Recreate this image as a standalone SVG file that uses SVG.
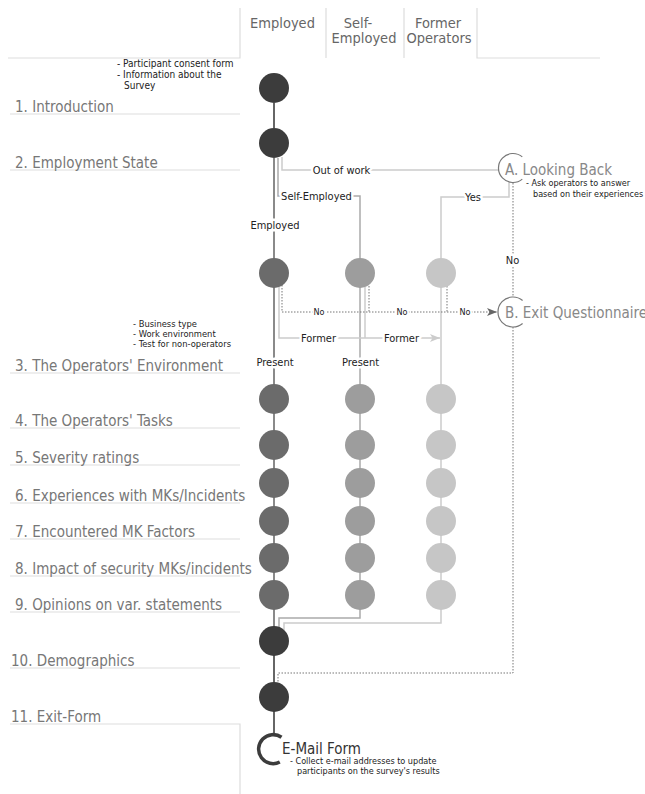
<svg xmlns="http://www.w3.org/2000/svg" width="645" height="794" viewBox="0 0 645 794">
<style>
text{font-family:'DejaVu Sans Condensed','DejaVu Sans',sans-serif;font-stretch:condensed}
.lbl{font-size:15px;fill:#777}
.hdr{font-size:14.5px;fill:#666;text-anchor:middle}
.note{font-size:9px;fill:#222}
.big{font-size:15px;fill:#888}
.cl{font-size:11px;fill:#222;text-anchor:middle;stroke:#fff;stroke-width:5;paint-order:stroke;stroke-linejoin:round}
.cs{font-size:9px;fill:#222;text-anchor:middle;stroke:#fff;stroke-width:4;paint-order:stroke;stroke-linejoin:round}
.rule{stroke:#ddd;stroke-width:1.2;fill:none}
.dark{stroke:#666;stroke-width:2;fill:none}
.emp{stroke:#8a8a8a;stroke-width:2;fill:none}
.self{stroke:#aaa;stroke-width:1.5;fill:none}
.form{stroke:#ccc;stroke-width:1.5;fill:none}
.dot{stroke:#777;stroke-width:1;stroke-dasharray:1.5 1.5;fill:none}
.cd{fill:#3c3c3c}
.ce{fill:#6b6b6b}
.cse{fill:#9d9d9d}
.cf{fill:#c6c6c6}
.ring{fill:none;stroke:#777;stroke-width:1.2}
</style>
<defs>
<marker id="arrD" viewBox="0 0 10 8" refX="10" refY="4" markerWidth="10" markerHeight="8" markerUnits="userSpaceOnUse" orient="auto"><path d="M0,0 L10,4 L0,8 L2.5,4 z" fill="#666"/></marker>
<marker id="arrL" viewBox="0 0 10 8" refX="10" refY="4" markerWidth="10" markerHeight="8" markerUnits="userSpaceOnUse" orient="auto"><path d="M0,0 L10,4 L0,8 L2.5,4 z" fill="#ccc"/></marker>
</defs>

<g id="grid">
<path class="rule" d="M8,58 H240 V8 M326,8 V58 M404,8 V58 M477,8 V58 H600"/>
<path class="rule" d="M10,114 H240 M10,170 H240 M10,373 H240 M10,428 H240 M10,465 H240 M10,503 H240 M10,539 H240 M10,576 H240 M10,612 H240 M10,668 H240 M10,724 H240 V794"/>
</g>

<g id="headers">
<text class="hdr" x="282.5" y="28">Employed</text>
<text class="hdr" x="358" y="28">Self-</text>
<text class="hdr" x="364" y="43">Employed</text>
<text class="hdr" x="438" y="28">Former</text>
<text class="hdr" x="439" y="43">Operators</text>
</g>

<g id="sections">
<text class="lbl" x="15" y="112">1. Introduction</text>
<text class="lbl" x="15" y="168">2. Employment State</text>
<text class="lbl" x="15" y="371">3. The Operators' Environment</text>
<text class="lbl" x="15" y="426">4. The Operators' Tasks</text>
<text class="lbl" x="15" y="463">5. Severity ratings</text>
<text class="lbl" x="15" y="501">6. Experiences with MKs/Incidents</text>
<text class="lbl" x="15" y="537">7. Encountered MK Factors</text>
<text class="lbl" x="15" y="574">8. Impact of security MKs/incidents</text>
<text class="lbl" x="15" y="610">9. Opinions on var. statements</text>
<text class="lbl" x="11" y="666">10. Demographics</text>
<text class="lbl" x="11" y="722">11. Exit-Form</text>
<text class="note" x="117" y="67" style="font-size:10px">- Participant consent form</text>
<text class="note" x="117" y="78" style="font-size:10px">- Information about the</text>
<text class="note" x="124" y="89" style="font-size:10px">Survey</text>
<text class="note" x="133" y="327" style="font-size:9.3px">- Business type</text>
<text class="note" x="133" y="337" style="font-size:9.3px">- Work environment</text>
<text class="note" x="133" y="347" style="font-size:9.3px">- Test for non-operators</text>
</g>

<g id="connectors">
<path class="dark" d="M274,103 V128 M274,626 V734"/>
<path class="emp" d="M274,158 V626"/>
<path class="self" d="M278,158 V196 H360 V618 H279 V627"/>
<path class="form" d="M509,182 V197 H441 V623 H284 V630"/>
<path class="form" d="M282,157 V170 H499"/>
<path class="form" d="M365,287 V338"/>
<path class="form" d="M279,287 V338 H440" marker-end="url(#arrL)"/>
<path class="dot" d="M282,285 V312 H497" marker-end="url(#arrD)"/>
<path class="dot" d="M369,286 V312 M447,286 V312"/>
<path class="dot" d="M513,183 V297 M513,327 V673 H278 V683"/>
<text class="cl" x="341.5" y="174">Out of work</text>
<text class="cl" x="316.5" y="200">Self-Employed</text>
<text class="cl" x="275" y="229">Employed</text>
<text class="cl" x="473" y="201">Yes</text>
<text class="cl" x="512.5" y="264">No</text>
<text class="cs" x="319" y="315">No</text>
<text class="cs" x="402" y="315">No</text>
<text class="cs" x="465" y="315">No</text>
<text class="cl" x="318.5" y="342">Former</text>
<text class="cl" x="401.5" y="342">Former</text>
<text class="cl" x="275" y="366">Present</text>
<text class="cl" x="360.5" y="366">Present</text>
</g>

<g id="n-intro"><circle class="cd" cx="274" cy="88" r="15"/></g>
<g id="n-employment"><circle class="cd" cx="274" cy="143" r="15"/></g>
<g id="n-env-emp"><circle class="ce" cx="274" cy="273" r="15"/></g>
<g id="n-env-self"><circle class="cse" cx="360" cy="273" r="15"/></g>
<g id="n-env-former"><circle class="cf" cx="441" cy="273" r="15"/></g>
<g id="n-tasks"><circle class="ce" cx="274" cy="399" r="15"/><circle class="cse" cx="360" cy="399" r="15"/><circle class="cf" cx="441" cy="399" r="15"/></g>
<g id="n-severity"><circle class="ce" cx="274" cy="445" r="15"/><circle class="cse" cx="360" cy="445" r="15"/><circle class="cf" cx="441" cy="445" r="15"/></g>
<g id="n-experiences"><circle class="ce" cx="274" cy="483" r="15"/><circle class="cse" cx="360" cy="483" r="15"/><circle class="cf" cx="441" cy="483" r="15"/></g>
<g id="n-factors"><circle class="ce" cx="274" cy="521" r="15"/><circle class="cse" cx="360" cy="521" r="15"/><circle class="cf" cx="441" cy="521" r="15"/></g>
<g id="n-impact"><circle class="ce" cx="274" cy="558" r="15"/><circle class="cse" cx="360" cy="558" r="15"/><circle class="cf" cx="441" cy="558" r="15"/></g>
<g id="n-opinions"><circle class="ce" cx="274" cy="595" r="15"/><circle class="cse" cx="360" cy="595" r="15"/><circle class="cf" cx="441" cy="595" r="15"/></g>
<g id="n-demographics"><circle class="cd" cx="274" cy="641" r="15"/></g>
<g id="n-exit"><circle class="cd" cx="274" cy="697" r="15"/></g>

<g id="n-lookingback">
<path class="ring" d="M522.3,179.1 A14.5,14.5 0 1 1 522.3,156.9"/>
<text class="big" x="505" y="175">A. Looking Back</text>
<text class="note" x="526" y="186">- Ask operators to answer</text>
<text class="note" x="533" y="197">based on their experiences</text>
</g>

<g id="n-exitq">
<path class="ring" d="M522.6,323.5 A15,15 0 1 1 522.6,300.5"/>
<text class="big" x="505" y="318">B. Exit Questionnaire</text>
</g>

<g id="n-email">
<path d="M279.8,762 A14.5,14.5 0 1 1 281.5,737.3" fill="none" stroke="#3c3c3c" stroke-width="3.5"/>
<text x="282" y="754" style="font-size:15px;fill:#333">E-Mail Form</text>
<text class="note" x="290" y="764">- Collect e-mail addresses to update</text>
<text class="note" x="297" y="774">participants on the survey's results</text>
</g>
</svg>
